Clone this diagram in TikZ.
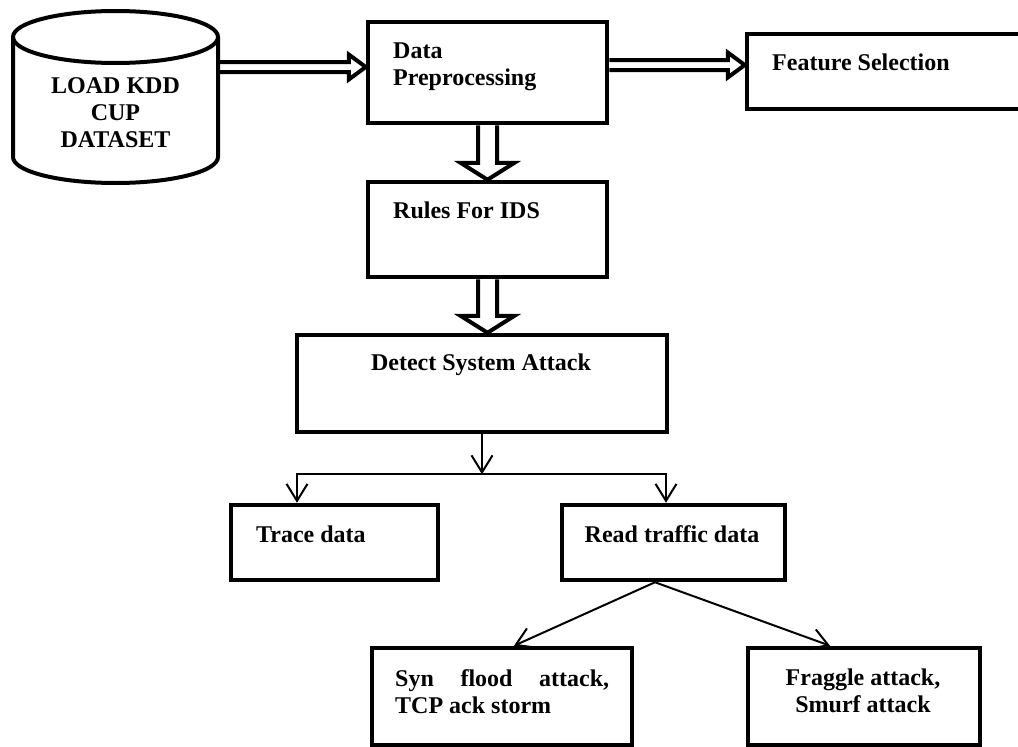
\documentclass[tikz,border=0pt]{standalone}
\usepackage{fontspec}
\setmainfont{Liberation Serif}
\usetikzlibrary{arrows.meta,calc}

\tikzset{
  box/.style={draw, line width=4.5pt, inner sep=0pt},
  txt/.style={inner sep=0pt, font=\fontsize{24}{27}\selectfont\bfseries},
  thinarrow/.style={line width=2pt, -{Straight Barb[length=17pt,width=21pt]}},
  fatarrow/.style n args={3}{line width=4pt, line join=miter,
    to path={let \p1=($(\tikztotarget)-(\tikztostart)$),
      \n1={atan2(\y1,\x1)}, \n2={veclen(\x1,\y1)} in
      ([shift={(\tikztostart)},rotate=\n1]0,#1)
      -- ([shift={(\tikztostart)},rotate=\n1]\n2-#3,#1)
      -- ([shift={(\tikztostart)},rotate=\n1]\n2-#3,#2)
      -- (\tikztotarget)
      -- ([shift={(\tikztostart)},rotate=\n1]\n2-#3,-#2)
      -- ([shift={(\tikztostart)},rotate=\n1]\n2-#3,-#1)
      -- ([shift={(\tikztostart)},rotate=\n1]0,-#1)}},
}

\begin{document}
\begin{tikzpicture}[x=1pt, y=-1pt]
    \useasboundingbox (0,0) rectangle (1018,747);

    % dataset
    \draw [line width=4pt] (115.5,37) ellipse [x radius=102.5pt, y radius=26pt];
    \draw [line width=4pt] (13,37) -- (13,157)
      arc [start angle=180, end angle=360, x radius=102.5pt, y radius=26pt] -- (218,37);
    \node [txt, align=center, anchor=north, minimum width=205pt] (load) at (115.5,77) {LOAD KDD\\CUP\\DATASET};

    % boxes
    \node [box, minimum width=239pt, minimum height=101pt] (data) at (487.5,72.5) {};
    \node [txt, align=left, anchor=north west] (datatxt) at (393,43) {Data\\Preprocessing};
    \node [box, minimum width=283pt, minimum height=75pt] (feature) at (888.5,71.5) {};
    \node [txt, anchor=base west] (featuretxt) at (772,70) {Feature Selection};
    \node [box, minimum width=239pt, minimum height=95pt] (rules) at (487.5,229.5) {};
    \node [txt, anchor=base west] (rulestxt) at (393,218) {Rules For IDS};
    \node [box, minimum width=370pt, minimum height=97pt] (detect) at (482,383.5) {};
    \node [txt, anchor=base] (detecttxt) at (481,370) {Detect System Attack};

    \node [box, minimum width=207pt, minimum height=75pt] (trace) at (334.5,542.5) {};
    \node [txt, anchor=base west] (tracetxt) at (256,542) {Trace data};
    \node [box, minimum width=223pt, minimum height=75pt] (read) at (673.5,542.5) {};
    \node [txt, anchor=base] (readtxt) at (672,542) {Read traffic data};

    \node [box, minimum width=260pt, minimum height=97pt] (syn) at (502,696.5) {};
    \node [txt, align=left, anchor=north west] (syntxt) at (395,669)
      {\makebox[214pt][s]{Syn flood attack,}\\TCP ack storm};
    \node [box, minimum width=232pt, minimum height=97pt] (fraggle) at (864,696.5) {};
    \node [txt, align=center, anchor=north] (fraggletxt) at (863,669) {Fraggle attack,\\Smurf attack};

    % fat arrows
    \coordinate (datain) at ([yshift=5.5pt]data.west);
    \coordinate (featurein) at ([yshift=6.5pt]feature.west);
    \draw [fatarrow={5}{12.5}{17}] (datain -| load.east) to (datain);
    \draw [fatarrow={5}{12.5}{17}] (featurein -| data.east) to (featurein);
    \draw [fatarrow={9.5}{27}{17}] (data.south) to (rules.north);
    \draw [fatarrow={9.5}{27}{17}] (rules.south) to (rules.south |- detect.north);

    % thin arrows
    \coordinate (split) at ([yshift=-40pt]detect.south);
    \draw [thinarrow] (detect.south) -- (split);
    \draw [thinarrow] (split) -| ([xshift=-37.5pt]trace.north);
    \draw [thinarrow] (split) -| ([xshift=-7.5pt]read.north);
    \draw [thinarrow] ([xshift=-18.5pt]read.south) -- ([xshift=12pt]syn.north);
    \draw [thinarrow] ([xshift=-18.5pt]read.south) -- ([xshift=-34pt]fraggle.north);
\end{tikzpicture}
\end{document}
